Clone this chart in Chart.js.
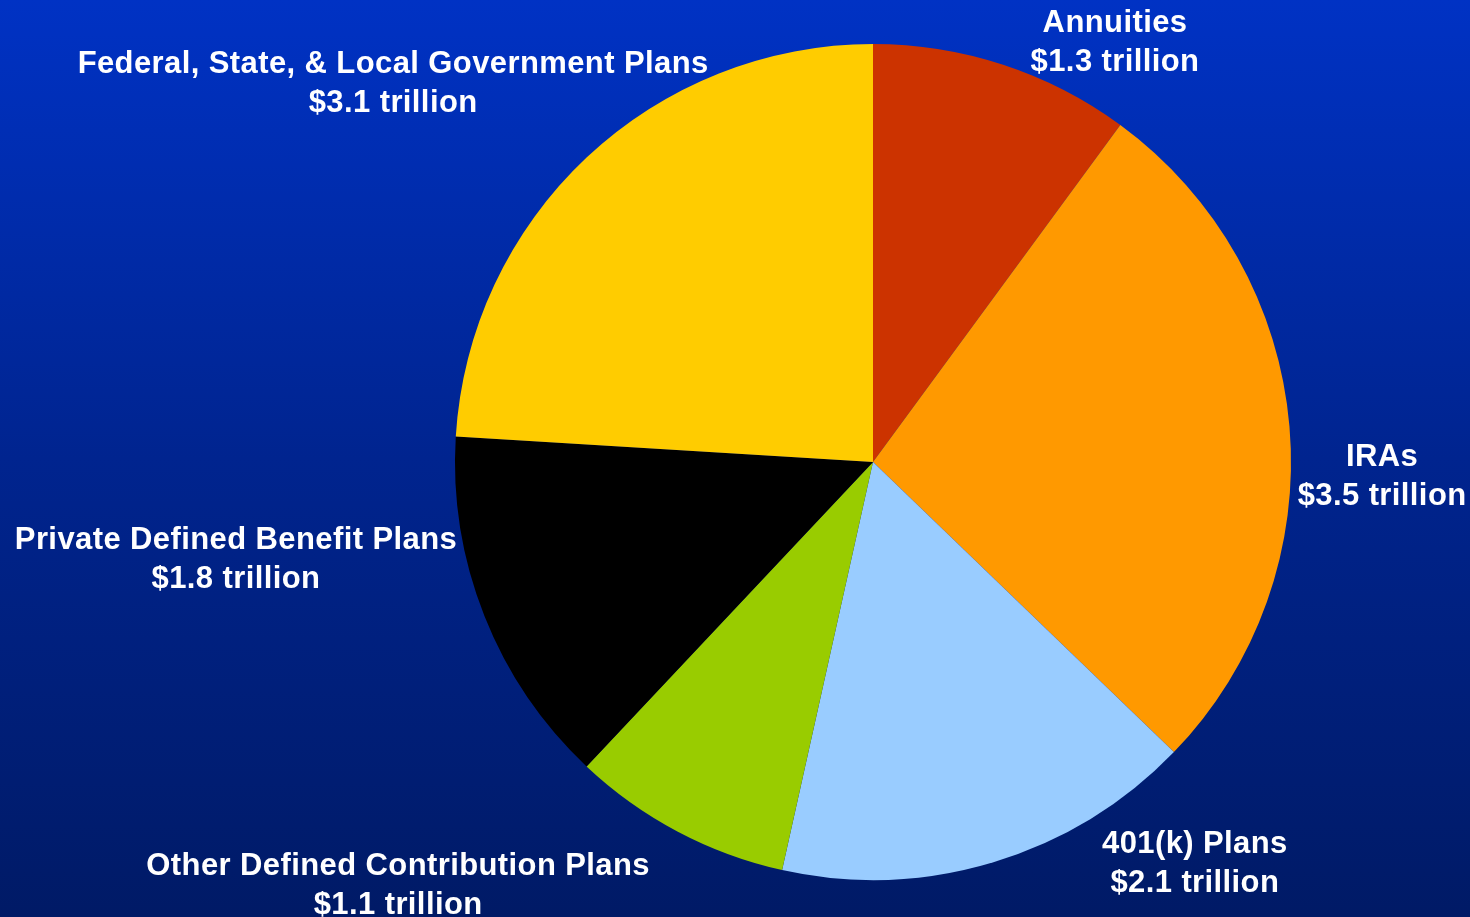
<!DOCTYPE html>
<html>
<head>
<meta charset="utf-8">
<title>Retirement Assets by Type</title>
<script src="https://cdn.jsdelivr.net/npm/chart.js@4/dist/chart.umd.min.js"></script>
<style>
  html, body { margin: 0; padding: 0; background: #001a66; }
  #wrap { width: 1470px; height: 917px; position: relative; }
</style>
</head>
<body>
<div id="wrap"><canvas id="pie" width="1470" height="917"></canvas></div>
<script>
// Retirement market assets, trillions of dollars
const categories = [
  'Annuities',
  'IRAs',
  '401(k) Plans',
  'Other Defined Contribution Plans',
  'Private Defined Benefit Plans',
  'Federal, State, & Local Government Plans'
];
const valuesTrillions = [1.3, 3.5, 2.1, 1.1, 1.8, 3.1];
const sliceColors = ['#cc3300', '#ff9900', '#99ccff', '#99cc00', '#000000', '#ffcc00'];

// Label anchor for each slice, in units of the pie radius from its centre
const labelAnchors = [
  [0.579, -1.048],
  [1.218, -0.012],
  [0.770, 0.914],
  [-1.136, 0.967],
  [-1.524, 0.187],
  [-1.148, -0.950]
];

const backgroundPlugin = {
  id: 'bgGradient',
  beforeDraw(chart) {
    const { ctx, width, height } = chart;
    const g = ctx.createLinearGradient(0, 0, 0, height);
    g.addColorStop(0, '#0032c4');
    g.addColorStop(0.5, '#00248f');
    g.addColorStop(1, '#001a66');
    ctx.save();
    ctx.fillStyle = g;
    ctx.fillRect(0, 0, width, height);
    ctx.restore();
  }
};

const sliceLabelPlugin = {
  id: 'sliceLabels',
  afterDraw(chart) {
    const arcs = chart.getDatasetMeta(0).data;
    if (!arcs.length) return;
    const { ctx } = chart;
    const cx = arcs[0].x, cy = arcs[0].y, r = arcs[0].outerRadius;
    ctx.save();
    ctx.fillStyle = '#ffffff';
    ctx.font = 'bold 31px "Liberation Sans", Arial, sans-serif';
    ctx.letterSpacing = '0.4px';
    ctx.textAlign = 'center';
    ctx.textBaseline = 'middle';
    categories.forEach((name, i) => {
      const [fx, fy] = labelAnchors[i];
      const x = cx + r * fx, y = cy + r * fy;
      ctx.fillText(name, x, y);
      ctx.fillText('$' + valuesTrillions[i].toFixed(1) + ' trillion', x, y + 39);
    });
    ctx.restore();
  }
};

new Chart(document.getElementById('pie'), {
  type: 'pie',
  data: {
    labels: categories,
    datasets: [{
      data: valuesTrillions,
      backgroundColor: sliceColors,
      borderWidth: 0
    }]
  },
  options: {
    responsive: false,
    animation: false,
    layout: { padding: { left: 455, right: 179, top: 44, bottom: 37 } },
    plugins: {
      legend: { display: false },
      tooltip: { enabled: false }
    }
  },
  plugins: [backgroundPlugin, sliceLabelPlugin]
});
</script>
</body>
</html>
